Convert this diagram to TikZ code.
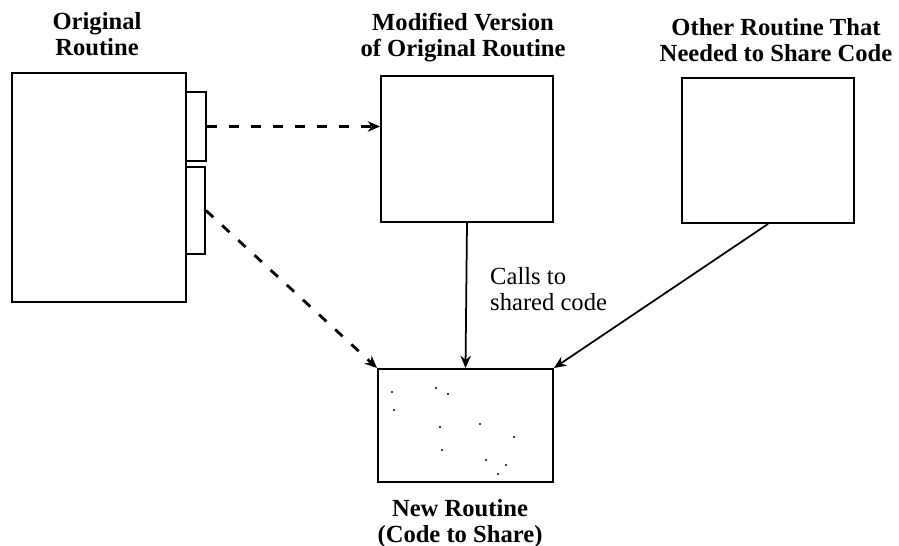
\documentclass[tikz,border=0pt]{standalone}
\usepackage{fontspec}
\setmainfont{Liberation Serif}
\usetikzlibrary{arrows.meta}

\begin{document}
\begin{tikzpicture}[x=0.02cm,y=-0.02cm,>={Stealth[length=7pt,width=6pt]},
box/.style 2 args={draw,line width=1.1pt,inner sep=0pt,minimum width=#1*0.02cm,minimum height=#2*0.02cm},
title/.style={font=\fontsize{14}{14.8}\selectfont\bfseries,align=center},
copyline/.style={->,line width=1.6pt,dash pattern=on 5.7pt off 6.8pt},
callline/.style={->,line width=1pt}]
\useasboundingbox (0,0) rectangle (899,546);
\node[box={174}{229}] (orig) at (99,187.5) {};
\node[box={20}{69}] (tabA) at (196,126.5) {};
\node[box={19}{87}] (tabB) at (195.5,210.5) {};
\node[box={172}{146}] (mod) at (467,149) {};
\node[box={172}{145}] (other) at (768,150.5) {};
\node[box={175}{113}] (new) at (465.5,425.5) {};
\node[title] (origT) at (97,34.5) {Original\\Routine};
\node[title] (modT) at (463,37.5) {Modified Version\\of Original Routine};
\node[title] (otherT) at (776,40) {Other Routine That\\Needed to Share Code};
\node[title] (newT) at (460,524) {New Routine\\(Code to Share)};
\node[font=\fontsize{14}{14.8}\selectfont,align=left,anchor=west] (calls) at (484,289) {Calls to\\shared code};
\foreach \dx/\dy in {392/392,436/388,448/394,394/410,440/427,480/424,514/437,442/450,486/460,506/465,498/474}
  \fill (\dx,\dy) circle (0.7pt);
\draw[copyline] (tabA.east) -- (mod.west |- tabA.east);
\draw[copyline] (tabB.east) -- (new.north west);
\draw[callline] (mod.south) -- (new.north);
\draw[callline] (other.south) -- (new.north east);
\end{tikzpicture}
\end{document}
